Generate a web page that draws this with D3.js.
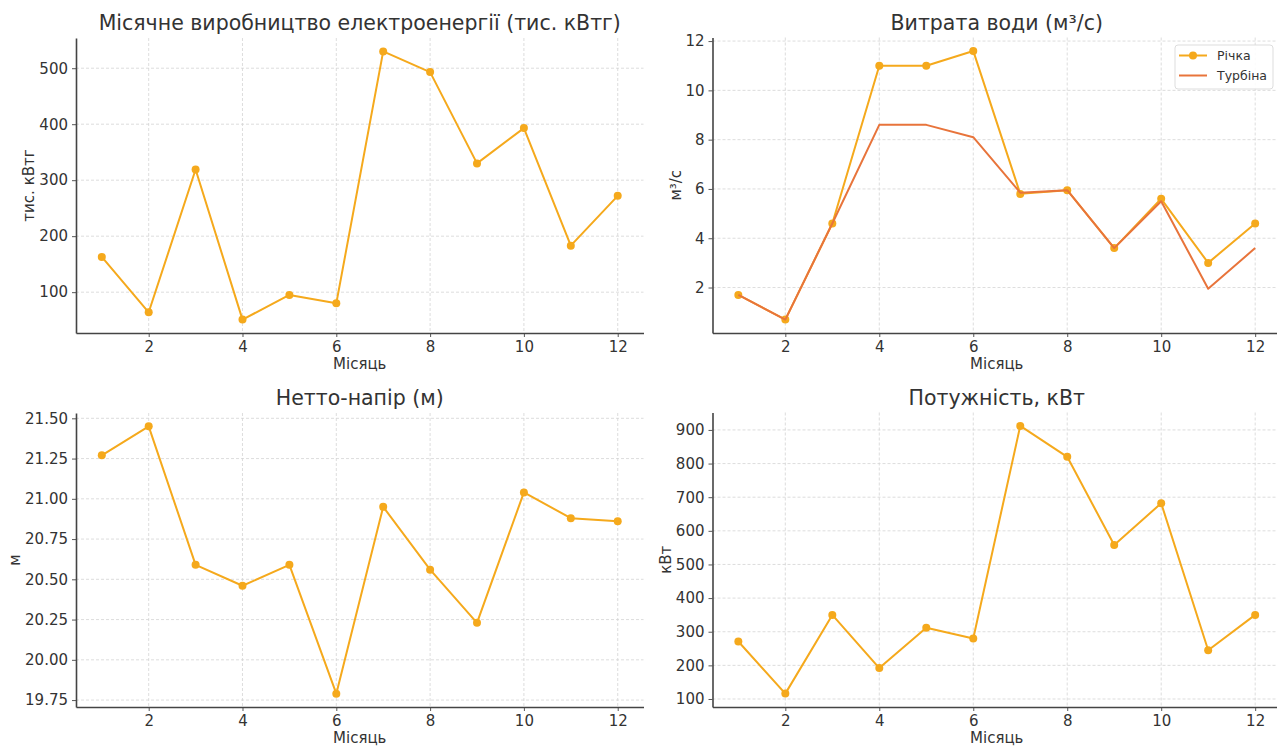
<!DOCTYPE html>
<html>
<head>
<meta charset="utf-8">
<script src="https://cdn.jsdelivr.net/npm/d3@7"></script>
<style>
  body { margin: 0; background: #fff; }
  svg { display: block; font-family: "DejaVu Sans", sans-serif; }
  .grid line { stroke: #d4d4d4; stroke-width: 0.8; stroke-dasharray: 3,2; }
  .axis path, .axis line { stroke: #444; }
  .axis text { fill: #333; font-size: 15px; font-family: "DejaVu Sans", sans-serif; }
</style>
</head>
<body>
<svg id="chart" width="1277" height="747"></svg>
<script>
// monthly data
const months = [1, 2, 3, 4, 5, 6, 7, 8, 9, 10, 11, 12];
const energy = [163, 64, 319, 51, 95, 80, 530, 493, 330, 393, 183, 272];
const riverFlow = [1.7, 0.7, 4.6, 11.0, 11.0, 11.6, 5.8, 5.95, 3.6, 5.6, 3.0, 4.6];
const turbineFlow = [1.7, 0.7, 4.6, 8.6, 8.6, 8.1, 5.85, 5.95, 3.6, 5.5, 1.95, 3.6];
const netHead = [21.27, 21.45, 20.59, 20.46, 20.59, 19.79, 20.95, 20.56, 20.23, 21.04, 20.88, 20.86];
const power = [271, 116, 350, 192, 312, 280, 912, 820, 558, 682, 245, 350];

const xTicks = [2, 4, 6, 8, 10, 12];
const energyTicks = [100, 200, 300, 400, 500];
const flowTicks = [2, 4, 6, 8, 10, 12];
const headTicks = [19.75, 20.0, 20.25, 20.5, 20.75, 21.0, 21.25, 21.5];
const powerTicks = [100, 200, 300, 400, 500, 600, 700, 800, 900];

const ORANGE = "#f5a91c";
const RUST = "#e8743b";

const svg = d3.select("#chart");

const panels = [
  { title: "Місячне виробництво електроенергії (тис. кВтг)", ylabel: "тис. кВтг",
    x0: 76, x1: 643.5, y0: 38, y1: 333, ylabelX: 29,
    series: [{ name: "Річка", values: energy, color: ORANGE, dots: true }],
    yTicks: energyTicks, fmt: d3.format("d") },
  { title: "Витрата води (м³/с)", ylabel: "м³/с",
    x0: 712.5, x1: 1281, y0: 37.5, y1: 333, ylabelX: 676,
    series: [
      { name: "Річка", values: riverFlow, color: ORANGE, dots: true },
      { name: "Турбіна", values: turbineFlow, color: RUST, dots: false }
    ],
    yTicks: flowTicks, fmt: d3.format("d"), legend: true },
  { title: "Нетто-напір (м)", ylabel: "м",
    x0: 76, x1: 643.5, y0: 413, y1: 707, ylabelX: 15,
    series: [{ name: "", values: netHead, color: ORANGE, dots: true }],
    yTicks: headTicks, fmt: d3.format(".2f") },
  { title: "Потужність, кВт", ylabel: "кВт",
    x0: 712.5, x1: 1281, y0: 412.5, y1: 707, ylabelX: 666,
    series: [{ name: "", values: power, color: ORANGE, dots: true }],
    yTicks: powerTicks, fmt: d3.format("d") }
];

panels.forEach(p => {
  const x = d3.scaleLinear().domain([0.45, 12.55]).range([p.x0, p.x1]);

  const all = p.series.flatMap(s => s.values);
  const lo = d3.min(all), hi = d3.max(all), pad = (hi - lo) * 0.05;
  const y = d3.scaleLinear().domain([lo - pad, hi + pad]).range([p.y1, p.y0]);

  const g = svg.append("g");

  // grid
  g.append("g").attr("class", "grid")
    .selectAll("line.v").data(xTicks).join("line")
    .attr("x1", d => x(d)).attr("x2", d => x(d))
    .attr("y1", p.y0).attr("y2", p.y1);
  g.append("g").attr("class", "grid")
    .selectAll("line.h").data(p.yTicks).join("line")
    .attr("x1", p.x0).attr("x2", p.x1)
    .attr("y1", d => y(d)).attr("y2", d => y(d));

  // axes (left + bottom spines only)
  const xa = g.append("g").attr("class", "axis")
    .attr("transform", `translate(0,${p.y1})`)
    .call(d3.axisBottom(x).tickValues(xTicks).tickSize(4).tickPadding(4).tickSizeOuter(0));
  const ya = g.append("g").attr("class", "axis")
    .attr("transform", `translate(${p.x0},0)`)
    .call(d3.axisLeft(y).tickValues(p.yTicks).tickFormat(p.fmt).tickSize(4).tickPadding(4).tickSizeOuter(0));
  [xa, ya].forEach(a => {
    a.select(".domain").attr("stroke-width", 1.6).attr("stroke", "#444");
    a.selectAll(".tick line").attr("stroke", "#666").attr("stroke-width", 0.9);
  });

  // lines and markers
  const line = d3.line().x((d, i) => x(months[i])).y(d => y(d));
  p.series.forEach(s => {
    g.append("path").datum(s.values)
      .attr("fill", "none").attr("stroke", s.color).attr("stroke-width", 2)
      .attr("stroke-linejoin", "round")
      .attr("d", line);
    if (s.dots) {
      g.selectAll(null).data(s.values).join("circle")
        .attr("cx", (d, i) => x(months[i])).attr("cy", d => y(d))
        .attr("r", 4).attr("fill", s.color);
    }
  });

  // title
  g.append("text")
    .attr("x", (p.x0 + p.x1) / 2).attr("y", p.y0 - 8)
    .attr("text-anchor", "middle").attr("fill", "#333")
    .attr("font-size", "20.5px")
    .text(p.title);

  // x label
  g.append("text")
    .attr("x", (p.x0 + p.x1) / 2).attr("y", p.y1 + 36)
    .attr("text-anchor", "middle").attr("fill", "#333")
    .attr("font-size", "15px")
    .text("Місяць");

  // y label
  const cy = (p.y0 + p.y1) / 2;
  g.append("text")
    .attr("transform", `translate(${p.ylabelX},${cy}) rotate(-90)`)
    .attr("text-anchor", "middle").attr("dy", "0.35em").attr("fill", "#333")
    .attr("font-size", "15px")
    .text(p.ylabel);

  if (p.legend) {
    const lg = g.append("g").attr("transform", "translate(1175,45)");
    lg.append("rect").attr("width", 98).attr("height", 44).attr("rx", 3)
      .attr("fill", "#fff").attr("fill-opacity", 0.85)
      .attr("stroke", "#ddd").attr("stroke-width", 1);
    p.series.forEach((s, i) => {
      const ly = 10.5 + i * 20;
      lg.append("line").attr("x1", 4).attr("x2", 32).attr("y1", ly).attr("y2", ly)
        .attr("stroke", s.color).attr("stroke-width", 2);
      if (s.dots) lg.append("circle").attr("cx", 18).attr("cy", ly).attr("r", 4).attr("fill", s.color);
      lg.append("text").attr("x", 42).attr("y", ly).attr("dy", "0.35em")
        .attr("fill", "#333").attr("font-size", "12.5px").text(s.name);
    });
  }
});
</script>
</body>
</html>
